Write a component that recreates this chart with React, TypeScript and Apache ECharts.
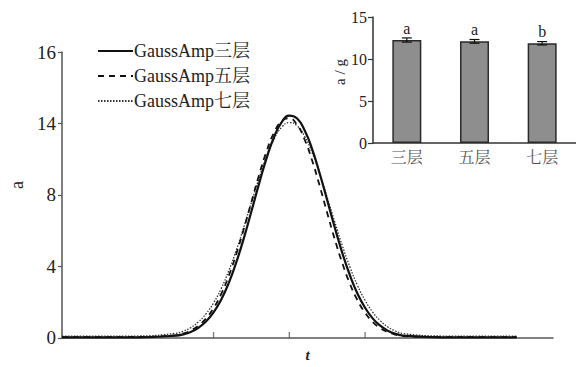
import React, { useEffect, useRef } from "react";
import * as echarts from "echarts";

const xValues = [0, 0.5, 1.0, 1.5, 1.6, 1.7, 1.8, 1.9, 2.0, 2.1, 2.2, 2.3, 2.4, 2.5, 2.6, 2.7, 2.8, 2.9, 3.0, 3.1, 3.2, 3.3, 3.4, 3.5, 3.6, 3.7, 3.8, 3.9, 4.0, 4.1, 4.2, 4.3, 4.4, 4.5, 5.0, 5.5, 6.0];
const solid3 = [0.03, 0.03, 0.04, 0.13, 0.2, 0.34, 0.57, 0.92, 1.43, 2.14, 3.07, 4.23, 5.59, 7.09, 8.62, 10.06, 11.26, 12.08, 12.44, 12.29, 11.64, 10.58, 9.22, 7.71, 6.18, 4.75, 3.51, 2.48, 1.69, 1.10, 0.69, 0.41, 0.24, 0.14, 0.04, 0.03, 0.03];
const dashed5 = [0.05, 0.05, 0.06, 0.15, 0.25, 0.42, 0.69, 1.09, 1.67, 2.45, 3.47, 4.70, 6.11, 7.61, 9.11, 10.45, 11.50, 12.14, 12.29, 11.94, 11.12, 9.94, 8.52, 7.00, 5.52, 4.18, 3.03, 2.11, 1.41, 0.90, 0.55, 0.33, 0.19, 0.11, 0.05, 0.05, 0.05];
const dotted7 = [0.1, 0.1, 0.11, 0.26, 0.38, 0.58, 0.9, 1.35, 1.96, 2.76, 3.75, 4.91, 6.21, 7.58, 8.93, 10.16, 11.14, 11.79, 12.05, 11.88, 11.30, 10.38, 9.19, 7.86, 6.49, 5.16, 3.97, 2.94, 2.11, 1.45, 0.97, 0.62, 0.39, 0.25, 0.11, 0.1, 0.1];
const seriesNames = ["GaussAmp三层", "GaussAmp五层", "GaussAmp七层"];
const yTickLabels = ["0", "4", "8", "14", "16"];
const xTickPositions = [2, 3, 4];

const layers = ["三层", "五层", "七层"];
const barValues = [12.26, 12.1, 11.87];
const barErrors = [0.25, 0.22, 0.2];
const barLetters = ["a", "a", "b"];

const FONT = "'Liberation Serif', 'Noto Serif CJK SC', 'Noto Sans CJK SC', serif";

export default function App() {
  const ref = useRef<HTMLDivElement>(null);
  useEffect(() => {
    if (!ref.current) return;
    const chart = echarts.init(ref.current, null, { renderer: "svg" });
    const toPairs = (ys: number[]) => xValues.map((x, i) => [x, ys[i]]);
    chart.setOption({
      animation: false,
      backgroundColor: "#fff",
      textStyle: { fontFamily: FONT, color: "#222" },
      legend: {
        orient: "vertical",
        left: 92,
        top: 37,
        itemWidth: 35,
        itemHeight: 14,
        itemGap: 7,
        selectedMode: false,
        data: seriesNames,
        itemStyle: { opacity: 0 },
        textStyle: { fontFamily: FONT, fontSize: 18, color: "#222", padding: [0, 0, 0, -4] },
      },
      grid: [
        { left: 57, top: 52, width: 496, height: 296 },
        { left: 373, top: 17, width: 207, height: 126 },
      ],
      xAxis: [
        {
          gridIndex: 0,
          type: "value",
          min: 0,
          max: 6.48,
          interval: 1,
          splitLine: { show: false },
          axisTick: { show: false },
          axisLabel: { show: false },
          axisLine: { lineStyle: { color: "#555", width: 1.5 } },
          name: "t",
          nameLocation: "middle",
          nameGap: 9,
          nameTextStyle: { fontFamily: FONT, fontSize: 15, fontStyle: "italic", fontWeight: "bold", color: "#222" },
        },
        {
          gridIndex: 1,
          type: "category",
          data: layers,
          axisTick: { inside: true, length: 5, lineStyle: { color: "#333", width: 1.2 } },
          axisLine: { lineStyle: { color: "#333", width: 1.5 } },
          axisLabel: { fontFamily: FONT, fontSize: 16, color: "#555", margin: 6 },
        },
      ],
      yAxis: [
        {
          gridIndex: 0,
          type: "value",
          min: 0,
          max: 16,
          interval: 4,
          splitLine: { show: false },
          axisLine: { show: true, lineStyle: { color: "#555", width: 1.5 } },
          axisTick: { show: true, length: 4, lineStyle: { color: "#555", width: 1.2 } },
          axisLabel: {
            fontFamily: FONT,
            fontSize: 19,
            color: "#222",
            margin: 6,
            formatter: (v: number) => yTickLabels[Math.round(v / 4)] ?? "",
          },
          name: "a",
          nameLocation: "middle",
          nameGap: 36,
          nameTextStyle: { fontFamily: FONT, fontSize: 18, color: "#222", padding: [0, 0, 0, 20] },
        },
        {
          gridIndex: 1,
          type: "value",
          min: 0,
          max: 15,
          interval: 5,
          splitLine: { show: false },
          axisLine: { show: true, lineStyle: { color: "#333", width: 1.5 } },
          axisTick: { show: true, length: 5, lineStyle: { color: "#333", width: 1.2 } },
          axisLabel: { fontFamily: FONT, fontSize: 16, color: "#222", margin: 6 },
          name: "a / g",
          nameLocation: "middle",
          nameGap: 24,
          nameTextStyle: { fontFamily: FONT, fontSize: 15, color: "#222", padding: [0, 0, 0, 16] },
        },
      ],
      series: [
        {
          name: seriesNames[0],
          type: "line",
          xAxisIndex: 0,
          yAxisIndex: 0,
          data: toPairs(solid3),
          smooth: true,
          symbol: "none",
          lineStyle: { color: "#111", width: 2.2, type: "solid" },
          itemStyle: { color: "#111" },
          z: 4,
        },
        {
          name: seriesNames[1],
          type: "line",
          xAxisIndex: 0,
          yAxisIndex: 0,
          data: toPairs(dashed5),
          smooth: true,
          symbol: "none",
          lineStyle: { color: "#111", width: 1.8, type: [6, 5] },
          itemStyle: { color: "#111" },
          z: 3,
        },
        {
          name: seriesNames[2],
          type: "line",
          xAxisIndex: 0,
          yAxisIndex: 0,
          data: toPairs(dotted7),
          smooth: true,
          symbol: "none",
          lineStyle: { color: "#333", width: 1.3, type: [1.5, 1.5] },
          itemStyle: { color: "#333" },
          z: 2,
        },
        {
          name: "ticks",
          type: "scatter",
          xAxisIndex: 0,
          yAxisIndex: 0,
          data: xTickPositions.map((x) => [x, 0]),
          symbol: "rect",
          symbolSize: [1.3, 6],
          symbolOffset: [0, -3],
          itemStyle: { color: "#555" },
          silent: true,
          z: 5,
        },
        {
          name: "bars",
          type: "bar",
          xAxisIndex: 1,
          yAxisIndex: 1,
          data: barValues,
          barWidth: 29,
          itemStyle: { color: "#8e8e8e", borderColor: "#2a2a2a", borderWidth: 1.5 },
          label: {
            show: true,
            position: "top",
            distance: 4,
            fontFamily: FONT,
            fontSize: 16,
            color: "#222",
            formatter: (p: any) => barLetters[p.dataIndex],
          },
        },
        {
          name: "err",
          type: "custom",
          xAxisIndex: 1,
          yAxisIndex: 1,
          data: barValues.map((v, i) => [i, v - barErrors[i], v + barErrors[i]]),
          encode: { x: 0, y: [1, 2] },
          z: 5,
          renderItem: (params: any, api: any) => {
            const idx = api.value(0);
            const lo = api.coord([idx, api.value(1)]);
            const hi = api.coord([idx, api.value(2)]);
            const hw = 5;
            const st = { stroke: "#111", lineWidth: 1.2 };
            return {
              type: "group",
              children: [
                { type: "line", shape: { x1: lo[0], y1: lo[1], x2: hi[0], y2: hi[1] }, style: st },
                { type: "line", shape: { x1: lo[0] - hw, y1: lo[1], x2: lo[0] + hw, y2: lo[1] }, style: st },
                { type: "line", shape: { x1: hi[0] - hw, y1: hi[1], x2: hi[0] + hw, y2: hi[1] }, style: st },
              ],
            };
          },
        },
      ],
    });
    return () => chart.dispose();
  }, []);
  return <div ref={ref} style={{ position: "fixed", left: 0, top: 0, width: 576, height: 367 }} />;
}
